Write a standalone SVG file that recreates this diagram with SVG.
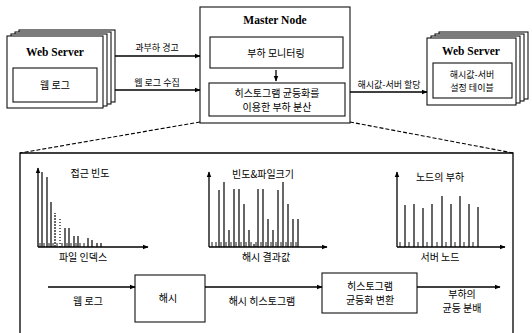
<svg xmlns="http://www.w3.org/2000/svg" width="532" height="333" viewBox="0 0 532 333">
<defs>
<marker id="ah" viewBox="0 0 10 10" refX="9" refY="5" markerWidth="6" markerHeight="6" orient="auto-start-reverse" markerUnits="userSpaceOnUse">
<path d="M0,1 L10,5 L0,9 z" fill="#000"/>
</marker>
<style>
.bx{fill:#fff;stroke:#111;stroke-width:1.1}
.ln{fill:none;stroke:#000;stroke-width:1.3}
.bar{stroke:#000;stroke-width:1.2}
.tk{stroke:#000;stroke-width:0.9}
.ds{fill:none;stroke:#000;stroke-width:1.1;stroke-dasharray:4 2}
.ser{font-family:"Liberation Serif","Times New Roman",serif;font-weight:bold;font-size:11.5px;text-anchor:middle;fill:#000}
.ko{font-family:"Noto Sans CJK KR","Noto Sans",sans-serif;font-size:10px;text-anchor:middle;fill:#000}
.ks{font-family:"Noto Sans CJK KR","Noto Sans",sans-serif;font-size:9px;text-anchor:middle;fill:#000}
</style>
</defs>
<rect width="532" height="333" fill="#fff"/>

<g id="web-server-left">
<rect class="bx" x="19" y="30" width="96" height="72"/>
<rect class="bx" x="15" y="32" width="96" height="72"/>
<rect class="bx" x="11" y="34" width="96" height="72"/>
<rect class="bx" x="7" y="36" width="96" height="72"/>
<text class="ser" x="55" y="56">Web Server</text>
<rect class="bx" x="13" y="68" width="84" height="34"/>
<text class="ko" x="55" y="89" font-size="10.5">웹 로그</text>
</g>

<g id="master-node">
<rect class="bx" x="200" y="7" width="150" height="116"/>
<text class="ser" x="275" y="24" font-size="12">Master Node</text>
<rect class="bx" x="210" y="37" width="133" height="31"/>
<text class="ko" x="276" y="57" font-size="11">부하 모니터링</text>
<rect class="bx" x="209" y="83" width="136" height="33"/>
<text class="ko" x="277" y="97" font-size="11.5">히스토그램 균등화를</text>
<text class="ko" x="277" y="111" font-size="11.5">이용한 부하 분산</text>
</g>

<g id="web-server-right">
<rect class="bx" x="439" y="32" width="89" height="67"/>
<rect class="bx" x="435" y="34" width="89" height="67"/>
<rect class="bx" x="431" y="36" width="89" height="67"/>
<rect class="bx" x="427" y="38" width="89" height="67"/>
<text class="ser" x="471" y="55">Web Server</text>
<rect class="bx" x="433" y="63" width="79" height="35"/>
<text class="ks" x="472" y="78">해시값-서버</text>
<text class="ks" x="472" y="91">설정 테이블</text>
</g>

<g id="detail-panel">
<path class="ln" d="M20,340 L20,153 L513,153 L513,340" stroke-width="1.2"/>
</g>

<g id="chart-access-frequency">
<text class="ko" x="90" y="177">접근 빈도</text>
<g class="bar">
<line x1="42" y1="247" x2="42" y2="172"/>
<line x1="47" y1="247" x2="47" y2="177"/>
<line x1="51" y1="247" x2="51" y2="202"/>
<line x1="55" y1="247" x2="55" y2="213" stroke-dasharray="2 1"/>
<line x1="60" y1="247" x2="60" y2="218" stroke-dasharray="1 2"/>
<line x1="65" y1="247" x2="65" y2="228"/>
<line x1="69" y1="247" x2="69" y2="228"/>
<line x1="74" y1="247" x2="74" y2="236"/>
<line x1="78" y1="247" x2="78" y2="236"/>
<line x1="88" y1="247" x2="88" y2="238"/>
<line x1="92" y1="247" x2="92" y2="240"/>
<line x1="97" y1="247" x2="97" y2="243"/>
<line x1="101" y1="247" x2="101" y2="243"/>
</g>
<path class="tk" d="M40,247v-4M44,247v-4M49,247v-4M53,247v-4M57,247v-4M62,247v-4M67,247v-4M71,247v-4M76,247v-4M80,247v-4M84,247v-4"/>
<line class="ln" x1="38" y1="247" x2="38" y2="168" marker-end="url(#ah)"/>
<line class="ln" x1="38" y1="247" x2="148" y2="247" marker-end="url(#ah)"/>
<text class="ko" x="83" y="261">파일 인덱스</text>
</g>

<g id="chart-hash-values">
<text class="ko" x="263" y="178">빈도&amp;파일크기</text>
<g class="bar">
<line x1="219" y1="247" x2="219" y2="190"/>
<line x1="224" y1="247" x2="224" y2="182"/>
<line x1="229" y1="247" x2="229" y2="230"/>
<line x1="234" y1="247" x2="234" y2="189"/>
<line x1="239" y1="247" x2="239" y2="189"/>
<line x1="244" y1="247" x2="244" y2="204"/>
<line x1="249" y1="247" x2="249" y2="230"/>
<line x1="254" y1="247" x2="254" y2="244"/>
<line x1="258" y1="247" x2="258" y2="189"/>
<line x1="263" y1="247" x2="263" y2="189"/>
<line x1="268" y1="247" x2="268" y2="219"/>
<line x1="273" y1="247" x2="273" y2="230"/>
<line x1="278" y1="247" x2="278" y2="190"/>
<line x1="283" y1="247" x2="283" y2="182"/>
<line x1="288" y1="247" x2="288" y2="204"/>
<line x1="293" y1="247" x2="293" y2="219"/>
<line x1="298" y1="247" x2="298" y2="219"/>
</g>
<path class="tk" d="M212,247v-5M216,247v-5M221,247v-5M226,247v-5M231,247v-5M236,247v-5M241,247v-5M246,247v-5M251,247v-5M256,247v-5M261,247v-5M266,247v-5M271,247v-5M276,247v-5M281,247v-5M286,247v-5M291,247v-5M296,247v-5"/>
<line class="ln" x1="209" y1="247" x2="209" y2="172" marker-end="url(#ah)"/>
<line class="ln" x1="209" y1="247" x2="327" y2="247" marker-end="url(#ah)"/>
<text class="ko" x="266" y="261">해시 결과값</text>
</g>

<g id="chart-node-load">
<text class="ko" x="440" y="181">노드의 부하</text>
<g class="bar">
<line x1="405" y1="247" x2="405" y2="205"/>
<line x1="414" y1="247" x2="414" y2="204"/>
<line x1="423" y1="247" x2="423" y2="208"/>
<line x1="432" y1="247" x2="432" y2="204"/>
<line x1="442" y1="247" x2="442" y2="196"/>
<line x1="451" y1="247" x2="451" y2="204"/>
<line x1="460" y1="247" x2="460" y2="196"/>
<line x1="469" y1="247" x2="469" y2="204"/>
<line x1="478" y1="247" x2="478" y2="207"/>
</g>
<path class="tk" d="M400,247v-5M409,247v-5M418,247v-5M427,247v-5M437,247v-5M446,247v-5M455,247v-5M464,247v-5M473,247v-5"/>
<line class="ln" x1="397" y1="247" x2="397" y2="172" marker-end="url(#ah)"/>
<line class="ln" x1="397" y1="247" x2="505" y2="247" marker-end="url(#ah)"/>
<text class="ko" x="440" y="261">서버 노드</text>
</g>

<g id="hash-box">
<rect class="bx" x="135" y="275" width="70" height="47"/>
<text class="ko" x="168" y="302" font-size="11.5">해시</text>
</g>

<g id="equalize-box">
<rect class="bx" x="322" y="273" width="95" height="40"/>
<text class="ko" x="370" y="290">히스토그램</text>
<text class="ko" x="370" y="304">균등화 변환</text>
</g>

<g id="connectors">
<line class="ln" x1="115" y1="56" x2="200" y2="56" marker-end="url(#ah)"/>
<text class="ks" x="157" y="51">과부하 경고</text>
<line class="ln" x1="115" y1="90" x2="200" y2="90" marker-end="url(#ah)"/>
<text class="ks" x="157" y="86">웹 로그 수집</text>
<line class="ln" x1="276" y1="70" x2="276" y2="81" marker-end="url(#ah)"/>
<line class="ln" x1="350" y1="92" x2="427" y2="92" marker-end="url(#ah)"/>
<text class="ks" x="389" y="88">해시값-서버 할당</text>
<line class="ds" x1="200" y1="122" x2="20" y2="153"/>
<line class="ds" x1="350" y1="122" x2="513" y2="153"/>
<line class="ln" x1="48" y1="287" x2="135" y2="287" marker-end="url(#ah)"/>
<text class="ko" x="88" y="305">웹 로그</text>
<line class="ln" x1="205" y1="287" x2="322" y2="287" marker-end="url(#ah)"/>
<text class="ko" x="262" y="305">해시 히스토그램</text>
<line class="ln" x1="417" y1="287" x2="500" y2="287" marker-end="url(#ah)"/>
<text class="ko" x="462" y="298">부하의</text>
<text class="ko" x="462" y="312">균등 분배</text>
</g>
</svg>
